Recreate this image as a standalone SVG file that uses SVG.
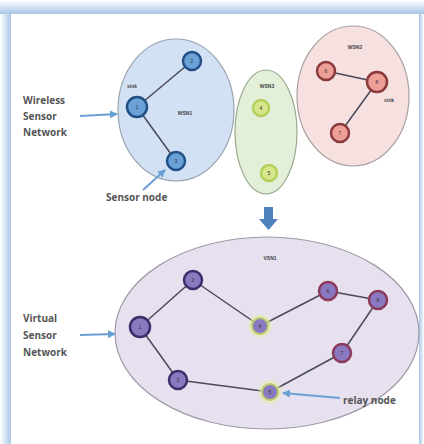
<svg xmlns="http://www.w3.org/2000/svg" width="424" height="444" viewBox="0 0 424 444">
<defs>
<linearGradient id="gl" x1="0" y1="0" x2="1" y2="0"><stop offset="0" stop-color="#ffffff"/><stop offset="1" stop-color="#a9c6e6"/></linearGradient>
<linearGradient id="gt" x1="0" y1="0" x2="0" y2="1"><stop offset="0" stop-color="#ffffff"/><stop offset="1" stop-color="#a9c6e6"/></linearGradient>
<linearGradient id="gr" x1="0" y1="0" x2="1" y2="0"><stop offset="0" stop-color="#a9c6e6"/><stop offset="1" stop-color="#ffffff"/></linearGradient>
<radialGradient id="glow"><stop offset="0.55" stop-color="#e8f0a0"/><stop offset="1" stop-color="#e8f0a0" stop-opacity="0"/></radialGradient>
<marker id="ah" markerWidth="8" markerHeight="8" refX="7" refY="4" orient="auto" markerUnits="userSpaceOnUse"><path d="M0,0 L8,4 L0,8 Z" fill="#6a9fd4"/></marker>
</defs>
<style>
.lbl{font-family:"Open Sans","Liberation Sans",sans-serif;font-weight:bold;font-size:10px;fill:#555}
.sm{font-family:"Liberation Sans",sans-serif;font-weight:bold;font-size:5px;fill:#444;text-anchor:middle}
.num{font-family:"Liberation Sans",sans-serif;font-size:5px;fill:#333;text-anchor:middle}
.edge{stroke:#4a4a5a;stroke-width:1.5;fill:none}
.arr{stroke:#6a9fd4;stroke-width:2;fill:none;marker-end:url(#ah)}
.blue{fill:#6aa2d8;stroke:#244f86;stroke-width:2.5}
.green{fill:#d5e78a;stroke:#b5d05a;stroke-width:2.5}
.pink{fill:#ee9f98;stroke:#8a3a3a;stroke-width:2.5}
.pur{fill:#8a78c0;stroke:#3a2f6a;stroke-width:2.5}
.purp{fill:#8a78c0;stroke:#8a3a5a;stroke-width:2.5}
.purg{fill:#8a78c0;stroke:#b9cc70;stroke-width:2}
</style>
<rect x="0" y="0" width="424" height="444" fill="#ffffff"/>
<rect x="0" y="0" width="11" height="444" fill="url(#gl)"/>
<rect x="0" y="0" width="424" height="14" fill="url(#gt)"/>
<rect x="419" y="14" width="5" height="430" fill="url(#gr)"/>
<rect x="11" y="14" width="408" height="430" fill="#ffffff"/>

<g id="wsn1"><ellipse cx="176" cy="110" rx="58" ry="71" fill="#d2e1f3" stroke="#9aa4b0" stroke-width="1.2"/><text class="sm" x="185" y="115">WSN1</text><text class="sm" x="132" y="88">sink</text></g>
<g id="wsn3"><ellipse cx="266" cy="132" rx="31" ry="62" fill="#e3efd8" stroke="#9aaa90" stroke-width="1.2"/><text class="sm" x="267" y="88">WSN3</text></g>
<g id="wsn2"><ellipse cx="353" cy="96" rx="56" ry="70" fill="#f6e0e0" stroke="#aaa0a0" stroke-width="1.2"/><text class="sm" x="355" y="49">WSN2</text><text class="sm" x="389" y="102">sink</text></g>
<g id="vsn1"><ellipse cx="267" cy="333" rx="152" ry="96" fill="#e7e1ef" stroke="#a09aa8" stroke-width="1.2"/><text class="sm" x="270" y="260">VSN1</text></g>

<g id="connectors">
<line class="edge" x1="137" y1="107" x2="192" y2="61"/>
<line class="edge" x1="137" y1="107" x2="176" y2="161"/>
<line class="edge" x1="326" y1="71" x2="377" y2="82"/>
<line class="edge" x1="377" y1="82" x2="340" y2="133"/>
<line class="edge" x1="140" y1="327" x2="193" y2="280"/>
<line class="edge" x1="193" y1="280" x2="260" y2="326"/>
<line class="edge" x1="260" y1="326" x2="328" y2="291"/>
<line class="edge" x1="328" y1="291" x2="378" y2="300"/>
<line class="edge" x1="378" y1="300" x2="342" y2="353"/>
<line class="edge" x1="342" y1="353" x2="270" y2="392"/>
<line class="edge" x1="270" y1="392" x2="178" y2="380"/>
<line class="edge" x1="178" y1="380" x2="140" y2="327"/>
<line class="arr" x1="80" y1="116" x2="117" y2="114"/>
<line class="arr" x1="143" y1="190" x2="165" y2="170"/>
<line class="arr" x1="80" y1="335" x2="115" y2="334"/>
<line class="arr" x1="340" y1="398" x2="283" y2="393"/>
<path d="M264,207 H273 V219 H278 L268.5,230 L259,219 H264 Z" fill="#4f81bd"/>
</g>

<g id="n1"><circle class="blue" cx="137" cy="107" r="10" stroke-width="3.5"/><text class="num" x="137" y="109">1</text></g>
<g id="n2"><circle class="blue" cx="192" cy="61" r="9"/><text class="num" x="192" y="63">2</text></g>
<g id="n3"><circle class="blue" cx="176" cy="161" r="9"/><text class="num" x="176" y="163">3</text></g>
<g id="n4"><circle class="green" cx="261" cy="108" r="8"/><text class="num" x="261" y="110">4</text></g>
<g id="n5"><circle class="green" cx="269" cy="173" r="8"/><text class="num" x="269" y="175">5</text></g>
<g id="n6"><circle class="pink" cx="326" cy="71" r="9"/><text class="num" x="326" y="73">6</text></g>
<g id="n8"><circle class="pink" cx="377" cy="82" r="10" stroke-width="3.5"/><text class="num" x="377" y="84">8</text></g>
<g id="n7"><circle class="pink" cx="340" cy="133" r="9"/><text class="num" x="340" y="135">7</text></g>

<g id="v2"><circle class="pur" cx="193" cy="280" r="9"/><text class="num" x="193" y="282">2</text></g>
<g id="v1"><circle class="pur" cx="140" cy="327" r="10" stroke-width="3.5"/><text class="num" x="140" y="329">1</text></g>
<g id="v3"><circle class="pur" cx="178" cy="380" r="9"/><text class="num" x="178" y="382">3</text></g>
<g id="v4"><circle cx="260" cy="326" r="13" fill="url(#glow)"/><circle class="purg" cx="260" cy="326" r="8"/><text class="num" x="260" y="328">4</text></g>
<g id="v6"><circle class="purp" cx="328" cy="291" r="9"/><text class="num" x="328" y="293">6</text></g>
<g id="v8"><circle class="purp" cx="378" cy="300" r="9"/><text class="num" x="378" y="302">8</text></g>
<g id="v7"><circle class="purp" cx="342" cy="353" r="9"/><text class="num" x="342" y="355">7</text></g>
<g id="v5"><circle cx="270" cy="392" r="13" fill="url(#glow)"/><circle class="purg" cx="270" cy="392" r="8"/><text class="num" x="270" y="394">5</text></g>

<g id="labels">
<text class="lbl" x="23" y="104">Wireless</text>
<text class="lbl" x="23" y="120">Sensor</text>
<text class="lbl" x="23" y="136">Network</text>
<text class="lbl" x="106" y="201">Sensor node</text>
<text class="lbl" x="23" y="322">Virtual</text>
<text class="lbl" x="23" y="339">Sensor</text>
<text class="lbl" x="23" y="356">Network</text>
<text class="lbl" x="343" y="404">relay node</text>
</g>
</svg>
